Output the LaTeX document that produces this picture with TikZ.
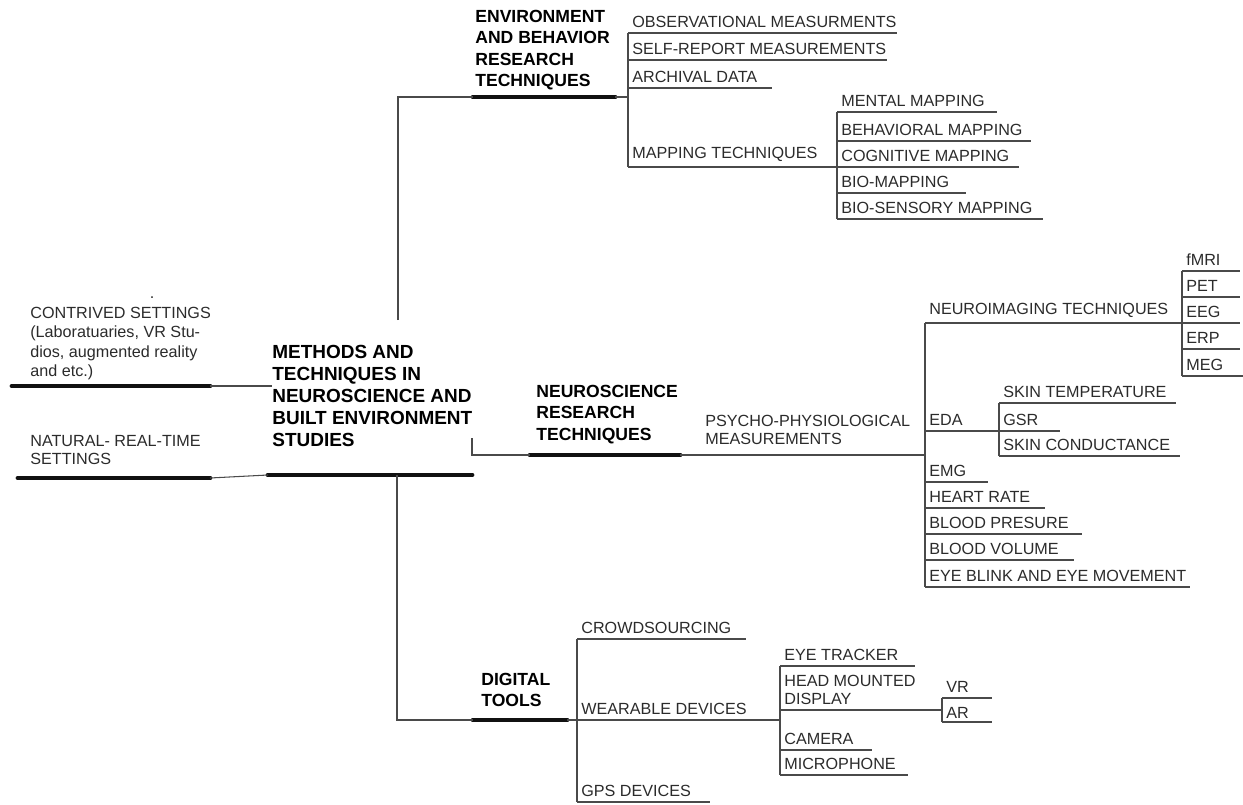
\documentclass[tikz,border=0pt]{standalone}
\usepackage{fontspec}
\setmainfont{Liberation Sans}
\definecolor{textgray}{HTML}{2B2B2B}
\definecolor{linegray}{HTML}{4A4A4A}
\definecolor{barblack}{HTML}{111111}

\begin{document}
\begin{tikzpicture}[
    x=0.02cm, y=-0.02cm,
    font=\fontsize{9.2}{10.6}\selectfont,
    ln/.style={draw=linegray, line width=0.6pt},
    bar/.style={draw=barblack, line width=2.8pt, line cap=round},
    leaf/.style={anchor=south west, align=left, inner xsep=0.08cm,
                 inner ysep=0.1cm, text=textgray},
    txt/.style={anchor=north west, align=left, inner sep=0pt, text=textgray},
    head/.style={txt, text=black, font=\bfseries\fontsize{10}{12.1}\selectfont},
    ttl/.style={txt, text=black, font=\bfseries\fontsize{10.8}{12.5}\selectfont}
]
\useasboundingbox (0,0) rectangle (1243,804);

% ===== SETTINGS (left) =====
\node[txt, anchor=base] (dot) at (152,298) {.};
\node[txt, font=\fontsize{9.2}{11}\selectfont] (contrived) at (30,307)
    {CONTRIVED SETTINGS\\(Laboratuaries, VR Stu-\\dios, augmented reality\\and etc.)};
\node[txt, font=\fontsize{9.2}{10.2}\selectfont] (natural) at (30,435)
    {NATURAL- REAL-TIME\\SETTINGS};
\coordinate (conL) at (12,386);  \coordinate (conR) at (210,386);
\coordinate (natL) at (18,478);  \coordinate (natR) at (210,478);
\draw[bar] (conL) -- (conR);
\draw[bar] (natL) -- (natR);

% ===== CENTRAL TITLE =====
\node[ttl] (title) at (272,345)
    {METHODS AND\\TECHNIQUES IN\\NEUROSCIENCE AND\\BUILT ENVIRONMENT\\STUDIES};
\coordinate (tbL) at (268,475);  \coordinate (tbR) at (472,475);
\draw[bar] (tbL) -- (tbR);

\draw[ln] (conR) -- (conR -| title.west);
\draw[ln] (natR) -- (tbL);

% ===== ENVIRONMENT AND BEHAVIOR =====
\node[head] (ebr) at (475,10) {ENVIRONMENT\\AND BEHAVIOR\\RESEARCH\\TECHNIQUES};
\coordinate (ebrL) at (473,97);  \coordinate (ebrR) at (615,97);
\draw[bar] (ebrL) -- (ebrR);

\node[leaf] (obs)  at (628,33)  {OBSERVATIONAL MEASURMENTS};
\node[leaf] (self) at (628,60)  {SELF-REPORT MEASUREMENTS};
\node[leaf] (arch) at (628,88)  {ARCHIVAL DATA};
\node[leaf] (map)  at (628,167) {MAPPING TECHNIQUES};

\node[leaf] (mental)  at (837,112) {MENTAL MAPPING};
\node[leaf] (behav)   at (837,141) {BEHAVIORAL MAPPING};
\node[leaf] (cogn)    at (837,167) {COGNITIVE MAPPING};
\node[leaf] (biomap)  at (837,193) {BIO-MAPPING};
\node[leaf] (biosens) at (837,219) {BIO-SENSORY MAPPING};

\coordinate (upB) at (398,320);
\draw[ln] (upB) |- (ebrL);
\draw[ln] (ebrR) -- (ebrR -| obs.south west);
\draw[ln] (obs.south west) -- (map.south west);
\draw[ln] (mental.south west) -- (biosens.south west);

% ===== NEUROSCIENCE =====
\node[head] (nrt) at (536,385) {NEUROSCIENCE\\RESEARCH\\TECHNIQUES};
\coordinate (nsL) at (530,455);  \coordinate (nsR) at (680,455);
\draw[bar] (nsL) -- (nsR);
\node[txt, font=\fontsize{9.2}{10.4}\selectfont] (psy) at (705,415)
    {PSYCHO-PHYSIOLOGICAL\\MEASUREMENTS};

\node[leaf] (nimg) at (925,323) {NEUROIMAGING TECHNIQUES};
\node[leaf] (fmri) at (1182,271) {fMRI};
\node[leaf] (pet)  at (1182,297) {PET};
\node[leaf] (eeg)  at (1182,323) {EEG};
\node[leaf] (erp)  at (1182,349) {ERP};
\node[leaf] (meg)  at (1182,376) {MEG};

\node[leaf] (eda)   at (925,431) {EDA};
\node[leaf] (skint) at (999,403) {SKIN TEMPERATURE};
\node[leaf] (gsr)   at (999,431) {GSR};
\node[leaf] (skinc) at (999,456) {SKIN CONDUCTANCE};

\node[leaf] (emg)   at (925,482) {EMG};
\node[leaf] (heart) at (925,508) {HEART RATE};
\node[leaf] (bpres) at (925,534) {BLOOD PRESURE};
\node[leaf] (bvol)  at (925,560) {BLOOD VOLUME};
\node[leaf] (eyeb)  at (925,587) {EYE BLINK AND EYE MOVEMENT};

\coordinate (nsT) at (472,438);
\draw[ln] (nsT) |- (nsL);
\draw[ln] (nsR) -- (nsR -| nimg.south west);
\draw[ln] (nimg.south west) -- (eyeb.south west);
\draw[ln] (fmri.south west) -- (meg.south west);
\draw[ln] (skint.south west) -- (skinc.south west);

% ===== DIGITAL TOOLS =====
\node[head] (dig) at (481,673) {DIGITAL\\TOOLS};
\coordinate (dtL) at (473,720);  \coordinate (dtR) at (567,720);
\draw[bar] (dtL) -- (dtR);

\node[leaf] (crowd) at (577,639) {CROWDSOURCING};
\node[leaf] (wear)  at (577,720) {WEARABLE DEVICES};
\node[leaf] (gps)   at (577,802) {GPS DEVICES};

\node[leaf] (eyet) at (780,666) {EYE TRACKER};
\node[leaf, font=\fontsize{9.2}{10.2}\selectfont] (hmd) at (780,710) {HEAD MOUNTED\\DISPLAY};
\node[leaf] (cam)  at (780,750) {CAMERA};
\node[leaf] (mic)  at (780,775) {MICROPHONE};

\node[leaf] (vr) at (942,698) {VR};
\node[leaf, inner ysep=0.07cm] (ar) at (942,722) {AR};

\coordinate (dnT) at (397,475);
\draw[ln] (dnT) |- (dtL);
\draw[ln] (dtR) -- (wear.south west);
\draw[ln] (crowd.south west) -- (gps.south west);
\draw[ln] (eyet.south west) -- (mic.south west);
\draw[ln] (vr.south west) -- (ar.south west);

% underlines: node / length
\foreach \n/\w in {obs/269, self/259, arch/144, map/209,
                   mental/160, behav/194, cogn/182, biomap/129, biosens/206,
                   nimg/257, fmri/58, pet/58, eeg/58, erp/58, meg/61,
                   eda/74, skint/177, gsr/61, skinc/181,
                   emg/63, heart/120, bpres/157, bvol/149, eyeb/265,
                   crowd/169, wear/203, gps/133,
                   eyet/135, hmd/162, cam/92, mic/128, vr/50, ar/50}
    \draw[ln] (\n.south west) -- ++(\w,0);

\end{tikzpicture}
\end{document}
